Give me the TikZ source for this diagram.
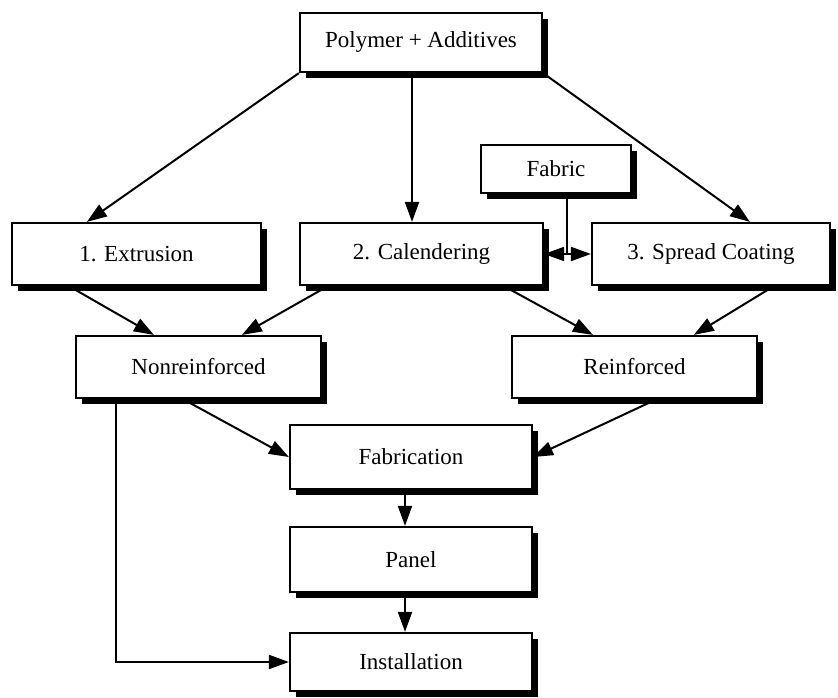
\documentclass[tikz,border=0pt]{standalone}
\usepackage{fontspec}
\setmainfont{Liberation Serif}
\usetikzlibrary{arrows.meta,calc,shadows}
\begin{document}
\begin{tikzpicture}[x=1pt,y=-1pt,
  box/.style={draw,line width=2.2pt,fill=white,inner sep=0pt,
    font=\fontsize{23}{27}\selectfont,
    drop shadow={shadow xshift=6pt,shadow yshift=-6pt,fill=black,opacity=1}},
  conn/.style={line width=2pt,-{Triangle[length=20pt,width=14pt]}},
  plainline/.style={line width=2pt}]
\useasboundingbox (0,0) rectangle (838,698);
\node[box,minimum width=242pt,minimum height=59pt] (poly) at (421,42.5) {Polymer + Additives};
\node[box,minimum width=150pt,minimum height=48pt] (fabric) at (556,169) {Fabric};
\node[box,minimum width=249pt,minimum height=62pt] (extr) at (136.5,254) {1. Extrusion};
\node[box,minimum width=243pt,minimum height=62pt] (cal) at (421.5,254) {2. Calendering};
\node[box,minimum width=238pt,minimum height=62pt] (spread) at (711,254) {3. Spread Coating};
\node[box,minimum width=245pt,minimum height=62pt] (nonr) at (198.5,367) {Nonreinforced};
\node[box,minimum width=245pt,minimum height=62pt] (reinf) at (634.5,367) {Reinforced};
\node[box,minimum width=242pt,minimum height=64pt] (fab) at (411,457) {Fabrication};
\node[box,minimum width=242pt,minimum height=65pt] (panel) at (411,559.5) {Panel};
\node[box,minimum width=242pt,minimum height=58pt] (install) at (411,662) {Installation};

\draw[conn] (poly.south west) -- ($(extr.north west)+(76,0)$);
\draw[conn] ($(poly.south)+(-9,0)$) -- ($(cal.north)+(-9.5,0)$);
\draw[conn] (poly.south east) -- ($(spread.north west)+(159,0)$);

\path (fabric.south) ++(11,0) coordinate (ftop);
\coordinate (fj) at (ftop |- cal.east);
\draw[plainline] (ftop) -- (fj);
\draw[conn] (fj) -- (cal.east);
\draw[conn] (fj) -- (spread.west);

\draw[conn] ($(extr.south west)+(58,0)$) -- ($(nonr.north west)+(79,0)$);
\draw[conn] ($(cal.south west)+(29,0)$) -- ($(nonr.north west)+(167,0)$);
\draw[conn] ($(cal.south west)+(205,0)$) -- ($(reinf.north west)+(82,0)$);
\draw[conn] ($(spread.south west)+(183,0)$) -- ($(reinf.north west)+(183,0)$);

\draw[conn] ($(nonr.south west)+(108,0)$) -- (fab.west);
\draw[conn] ($(reinf.south west)+(146,0)$) -- (fab.east);
\draw[conn] ($(fab.south)+(-6,0)$) -- ($(panel.north)+(-6,0)$);
\draw[conn] ($(panel.south)+(-6,0)$) -- ($(install.north)+(-6,0)$);
\path (nonr.south west) ++(41,0) coordinate (nl);
\draw[conn] (nl) |- (install.west);
\end{tikzpicture}
\end{document}
